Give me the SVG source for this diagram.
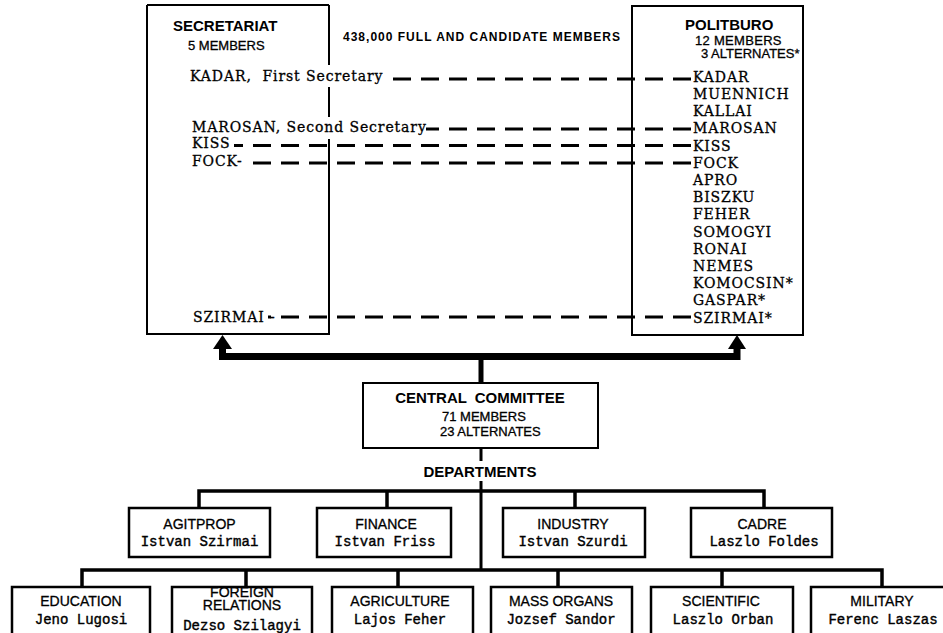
<svg xmlns="http://www.w3.org/2000/svg" width="943" height="633" viewBox="0 0 943 633">
<style>
.ln{fill:none;stroke:#000;stroke-width:2}
.dbox{fill:#fff;stroke:#000;stroke-width:2.5}
.hd{font-family:"Liberation Sans",Arial,sans-serif;font-weight:bold;fill:#000}
.sm{font-family:"Liberation Sans",Arial,sans-serif;font-size:13px;fill:#000;stroke:#000;stroke-width:0.3}
.nm{font-family:"DejaVu Serif",serif;font-size:14px;letter-spacing:0.9px;fill:#000;stroke:#000;stroke-width:0.3}
.dt{font-family:"Liberation Sans",Arial,sans-serif;font-size:14px;fill:#000;text-anchor:middle;stroke:#000;stroke-width:0.3}
.pn{font-family:"Liberation Mono",monospace;font-size:14px;fill:#000;text-anchor:middle;stroke:#000;stroke-width:0.4}
.dash{stroke:#000;stroke-width:3;stroke-dasharray:18 10;fill:none}
.bus{stroke:#000;stroke-width:3.5;fill:none;stroke-linejoin:miter}
</style>
<rect width="943" height="633" fill="#fff"/>
<text class="hd" x="343" y="41" font-size="12" textLength="277">438,000 FULL AND CANDIDATE MEMBERS</text>
<g id="secretariat">
<path class="ln" d="M147 5 H329 M147 5 V334 H329 M329 5 V65 M329 87 V117 M329 139 V335"/>
<text class="hd" x="173" y="31" font-size="15">SECRETARIAT</text>
<text class="sm" x="188" y="50">5 MEMBERS</text>
<text class="nm" x="190" y="81" xml:space="preserve">KADAR,  First Secretary</text>
<text class="nm" x="192" y="132">MAROSAN, Second Secretary</text>
<text class="nm" x="192" y="148">KISS</text>
<text class="nm" x="192" y="166">FOCK-</text>
<text class="nm" x="193" y="322">SZIRMAI -</text>
</g>
<g id="politburo">
<rect class="ln" x="632" y="6" width="171" height="329"/>
<text class="hd" x="685" y="30" font-size="15">POLITBURO</text>
<text class="sm" x="695" y="44.5" font-size="11.5" letter-spacing="0.3">12 MEMBERS</text>
<text class="sm" x="701" y="58" font-size="11.5">3 ALTERNATES*</text>
<g class="nm">
<text x="693" y="81.7">KADAR</text>
<text x="693" y="98.9">MUENNICH</text>
<text x="693" y="116.1">KALLAI</text>
<text x="693" y="133.3">MAROSAN</text>
<text x="693" y="150.5">KISS</text>
<text x="693" y="167.7">FOCK</text>
<text x="693" y="184.9">APRO</text>
<text x="693" y="202.1">BISZKU</text>
<text x="693" y="219.3">FEHER</text>
<text x="693" y="236.5">SOMOGYI</text>
<text x="693" y="253.7">RONAI</text>
<text x="693" y="270.9">NEMES</text>
<text x="693" y="288.1">KOMOCSIN*</text>
<text x="693" y="305.3">GASPAR*</text>
<text x="693" y="322.5">SZIRMAI*</text>
</g>
</g>
<g id="central-committee">
<rect class="ln" x="363" y="383" width="235" height="65"/>
<text class="hd" x="480" y="403" font-size="15" text-anchor="middle" word-spacing="4">CENTRAL COMMITTEE</text>
<text class="sm" x="442" y="421">71 MEMBERS</text>
<text class="sm" x="440" y="436">23 ALTERNATES</text>
</g>
<text class="hd" x="480" y="477" font-size="15" text-anchor="middle">DEPARTMENTS</text>
<g id="connectors">
<path class="dash" d="M691 79 H392"/>
<path class="dash" d="M691 129 H426"/>
<path class="dash" d="M691 145.5 H234"/>
<path class="dash" d="M691 163 H243"/>
<path class="dash" d="M691 317 H268"/>
<path d="M222.5 346 V356.5 H737 V346" fill="none" stroke="#000" stroke-width="7"/>
<polygon points="213,349 222.5,335 232,349" fill="#000"/>
<polygon points="728,349 737,335 746,349" fill="#000"/>
<path d="M481 356 V383" stroke="#000" stroke-width="5"/>
<path d="M481 448 V461 M481 481 V570" stroke="#000" stroke-width="3"/>
<path class="bus" d="M199 508 V491 H764 V508 M387 491 V508 M575 491 V508"/>
<path class="bus" d="M82 587 V570 H882 V587 M246 570 V587 M398 570 V587 M558 570 V587 M722 570 V587"/>
</g>
<g id="agitprop"><rect class="dbox" x="129" y="508" width="141" height="49"/><text class="dt" x="199.5" y="529">AGITPROP</text><text class="pn" x="199.5" y="546">Istvan Szirmai</text></g>
<g id="finance"><rect class="dbox" x="317" y="508" width="134" height="49"/><text class="dt" x="386" y="529">FINANCE</text><text class="pn" x="385" y="546">Istvan Friss</text></g>
<g id="industry"><rect class="dbox" x="503" y="508" width="142" height="49"/><text class="dt" x="573" y="529">INDUSTRY</text><text class="pn" x="573" y="546">Istvan Szurdi</text></g>
<g id="cadre"><rect class="dbox" x="691" y="508" width="141" height="49"/><text class="dt" x="762" y="529">CADRE</text><text class="pn" x="764" y="546">Laszlo Foldes</text></g>
<g id="education"><rect class="dbox" x="12" y="587" width="138" height="60"/><text class="dt" x="81" y="606">EDUCATION</text><text class="pn" x="81" y="624">Jeno Lugosi</text></g>
<g id="foreign-relations"><rect class="dbox" x="172" y="587" width="140" height="60"/><text class="dt" font-size="11.5"><tspan x="242" y="597">FOREIGN</tspan><tspan x="242" y="609.5">RELATIONS</tspan></text><text class="pn" x="242" y="629.5">Dezso Szilagyi</text></g>
<g id="agriculture"><rect class="dbox" x="332" y="587" width="141" height="60"/><text class="dt" x="400" y="606">AGRICULTURE</text><text class="pn" x="400" y="624">Lajos Feher</text></g>
<g id="mass-organs"><rect class="dbox" x="491" y="587" width="141" height="60"/><text class="dt" x="561" y="606">MASS ORGANS</text><text class="pn" x="561" y="624">Jozsef Sandor</text></g>
<g id="scientific"><rect class="dbox" x="651" y="587" width="142" height="60"/><text class="dt" x="721" y="606">SCIENTIFIC</text><text class="pn" x="723" y="624">Laszlo Orban</text></g>
<g id="military"><rect class="dbox" x="811" y="587" width="150" height="60"/><text class="dt" x="882" y="606">MILITARY</text><text class="pn" x="883" y="624">Ferenc Laszas</text></g>
</svg>
